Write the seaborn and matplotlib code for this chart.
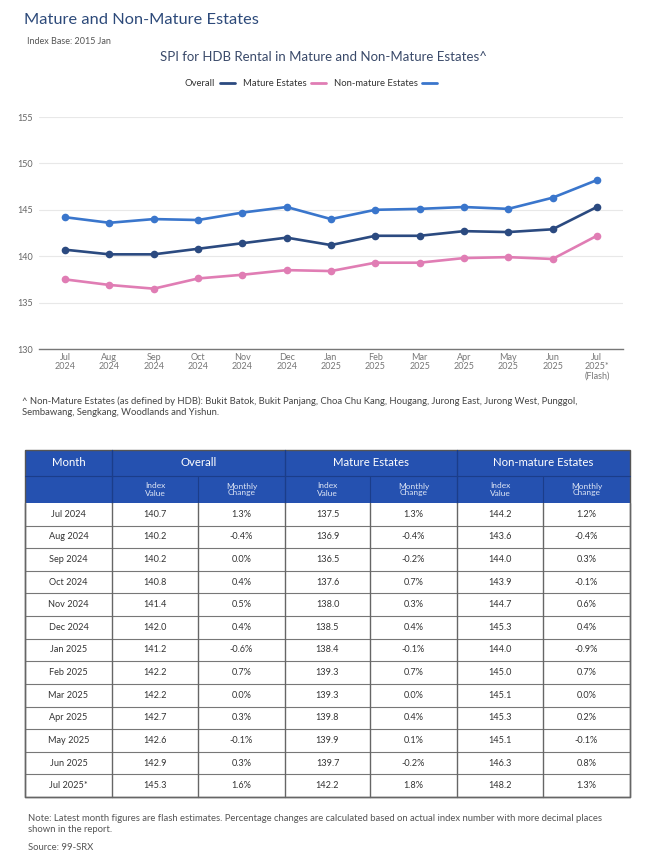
import matplotlib
matplotlib.use("Agg")
import matplotlib.pyplot as plt
import seaborn as sns
import pandas as pd
from matplotlib.patches import Rectangle
from matplotlib.lines import Line2D

# ---------------- data ----------------
months = ["Jul 2024", "Aug 2024", "Sep 2024", "Oct 2024", "Nov 2024", "Dec 2024",
          "Jan 2025", "Feb 2025", "Mar 2025", "Apr 2025", "May 2025", "Jun 2025", "Jul 2025*"]
tick_labels = ["Jul\n2024", "Aug\n2024", "Sep\n2024", "Oct\n2024", "Nov\n2024", "Dec\n2024",
               "Jan\n2025", "Feb\n2025", "Mar\n2025", "Apr\n2025", "May\n2025", "Jun\n2025",
               "Jul\n2025*\n(Flash)"]
overall = [140.7, 140.2, 140.2, 140.8, 141.4, 142.0, 141.2, 142.2, 142.2, 142.7, 142.6, 142.9, 145.3]
overall_chg = ["1.3%", "-0.4%", "0.0%", "0.4%", "0.5%", "0.4%", "-0.6%", "0.7%", "0.0%", "0.3%", "-0.1%", "0.3%", "1.6%"]
mature = [137.5, 136.9, 136.5, 137.6, 138.0, 138.5, 138.4, 139.3, 139.3, 139.8, 139.9, 139.7, 142.2]
mature_chg = ["1.3%", "-0.4%", "-0.2%", "0.7%", "0.3%", "0.4%", "-0.1%", "0.7%", "0.0%", "0.4%", "0.1%", "-0.2%", "1.8%"]
nonmature = [144.2, 143.6, 144.0, 143.9, 144.7, 145.3, 144.0, 145.0, 145.1, 145.3, 145.1, 146.3, 148.2]
nonmature_chg = ["1.2%", "-0.4%", "0.3%", "-0.1%", "0.6%", "0.4%", "-0.9%", "0.7%", "0.0%", "0.2%", "-0.1%", "0.8%", "1.3%"]
series_names = ["Overall", "Mature Estates", "Non-mature Estates"]
y_ticks = [130, 135, 140, 145, 150, 155]

colors = {"Overall": "#2b4a80", "Mature Estates": "#e07db4", "Non-mature Estates": "#3a76cc"}

# ---------------- setup ----------------
sns.set_theme(style="white")
plt.rcParams["font.family"] = ["Lato", "DejaVu Sans"]

W, H = 659, 859
fig = plt.figure(figsize=(W / 100, H / 100), dpi=100)

# overlay axes in pixel coordinates for text and table
ov = fig.add_axes([0, 0, 1, 1])
ov.set_xlim(0, W)
ov.set_ylim(H, 0)
ov.axis("off")
ov.patch.set_visible(False)

# ---------------- chart ----------------
ax_l, ax_r, ax_t, ax_b = 39, 623, 117, 349
ax = fig.add_axes([ax_l / W, 1 - ax_b / H, (ax_r - ax_l) / W, (ax_b - ax_t) / H])

df = pd.DataFrame({
    "x": list(range(len(months))) * 3,
    "value": overall + mature + nonmature,
    "series": [s for s in series_names for _ in months],
})
sns.lineplot(data=df, x="x", y="value", hue="series", hue_order=series_names,
             palette=colors, marker="o", markersize=5.5, markeredgewidth=0,
             linewidth=1.9, ax=ax, legend=False)

ax.set_xlim(-0.59, len(months) - 1 + 0.59)
ax.set_ylim(130, 155)
ax.set_yticks(y_ticks)
ax.set_yticklabels([str(v) for v in y_ticks], fontsize=6.5, color="#666666")
ax.set_xticks(range(len(months)))
ax.set_xticklabels(tick_labels, fontsize=6.5, color="#777777", linespacing=1.0)
ax.tick_params(axis="both", length=0, pad=3)
ax.set_xlabel("")
ax.set_ylabel("")
ax.grid(axis="y", color="#e8e8e8", linewidth=0.8)
for side in ["top", "right", "left"]:
    ax.spines[side].set_visible(False)
ax.spines["bottom"].set_color("#777777")
ax.spines["bottom"].set_linewidth(1.0)
ax.set_axisbelow(True)
for lbl in ax.get_yticklabels():
    lbl.set_horizontalalignment("left")
ax.tick_params(axis="y", pad=16)

# legend (label first, line after)
handles = [Line2D([0], [0], color=colors[s], linewidth=2) for s in series_names]
fig.legend(handles, series_names, loc="center", bbox_to_anchor=(311 / W, 1 - 84 / H),
           ncol=3, frameon=False, markerfirst=False, fontsize=6.8, handlelength=1.6,
           handletextpad=0.5, columnspacing=0.8, labelcolor="#333333")

# ---------------- texts ----------------
ov.text(24, 20, "Mature and Non-Mature Estates", fontsize=11.8, color="#2d4a7a",
        va="center", ha="left")
ov.text(27, 42, "Index Base: 2015 Jan", fontsize=6.5, color="#555555", va="center", ha="left")
ov.text(323, 57, "SPI for HDB Rental in Mature and Non-Mature Estates^", fontsize=9.5,
        color="#3a4a6a", va="center", ha="center")
ov.text(22, 407, "^ Non-Mature Estates (as defined by HDB): Bukit Batok, Bukit Panjang, Choa Chu Kang, "
        "Hougang, Jurong East, Jurong West, Punggol,\nSembawang, Sengkang, Woodlands and Yishun.",
        fontsize=6.85, color="#444444", va="center", ha="left", linespacing=1.3)
ov.text(28, 824, "Note: Latest month figures are flash estimates. Percentage changes are calculated based "
        "on actual index number with more decimal places\nshown in the report.",
        fontsize=6.85, color="#555555", va="center", ha="left", linespacing=1.3)
ov.text(28, 847, "Source: 99-SRX", fontsize=6.85, color="#555555", va="center", ha="left")

# ---------------- table ----------------
col_x = [25, 112, 198, 285, 370, 457, 543, 630]
h1_top, h1_bot, h2_bot, t_bot = 450, 476, 503, 797
n = len(months)
row_h = (t_bot - h2_bot) / n
hdr_blue = "#2551b0"
hdr_line = "#1b3d8a"

ov.add_patch(Rectangle((col_x[0], h1_top), col_x[-1] - col_x[0], h2_bot - h1_top,
                       facecolor=hdr_blue, edgecolor="none"))
# header group labels
groups = ["Month"] + series_names
group_spans = [(0, 1), (1, 3), (3, 5), (5, 7)]
for g, (a, b) in zip(groups, group_spans):
    ov.text((col_x[a] + col_x[b]) / 2, (h1_top + h1_bot) / 2, g, fontsize=8.2, color="white",
            ha="center", va="center")
for k in range(3):
    c0 = 1 + 2 * k
    ov.text((col_x[c0] + col_x[c0 + 1]) / 2, (h1_bot + h2_bot) / 2, "Index\nValue", fontsize=6,
            color="#dfe6f5", ha="center", va="center", linespacing=1.0)
    ov.text((col_x[c0 + 1] + col_x[c0 + 2]) / 2, (h1_bot + h2_bot) / 2, "Monthly\nChange",
            fontsize=6, color="#dfe6f5", ha="center", va="center", linespacing=1.0)
# header lines
ov.plot([col_x[0], col_x[-1]], [h1_bot, h1_bot], color=hdr_line, lw=0.8)
for xi in [col_x[1], col_x[3], col_x[5]]:
    ov.plot([xi, xi], [h1_top, h2_bot], color=hdr_line, lw=1.0)
for xi in [col_x[2], col_x[4], col_x[6]]:
    ov.plot([xi, xi], [h1_bot, h2_bot], color=hdr_line, lw=0.8)

# body
cols_data = [months,
             [f"{v:.1f}" for v in overall], overall_chg,
             [f"{v:.1f}" for v in mature], mature_chg,
             [f"{v:.1f}" for v in nonmature], nonmature_chg]
for i in range(n):
    yc = h2_bot + (i + 0.5) * row_h
    for j, col in enumerate(cols_data):
        ov.text((col_x[j] + col_x[j + 1]) / 2, yc, col[i], fontsize=6.6, color="#333333",
                ha="center", va="center")
    if i > 0:
        yl = h2_bot + i * row_h
        ov.plot([col_x[0], col_x[-1]], [yl, yl], color="#777777", lw=0.8)
for xi in col_x:
    ov.plot([xi, xi], [h2_bot, t_bot], color="#666666", lw=1.0)
ov.plot([col_x[0], col_x[-1]], [t_bot, t_bot], color="#666666", lw=1.0)
ov.add_patch(Rectangle((col_x[0], h1_top), col_x[-1] - col_x[0], t_bot - h1_top,
                       facecolor="none", edgecolor="#555555", lw=1.0))

fig.savefig("out.png", dpi=100)
